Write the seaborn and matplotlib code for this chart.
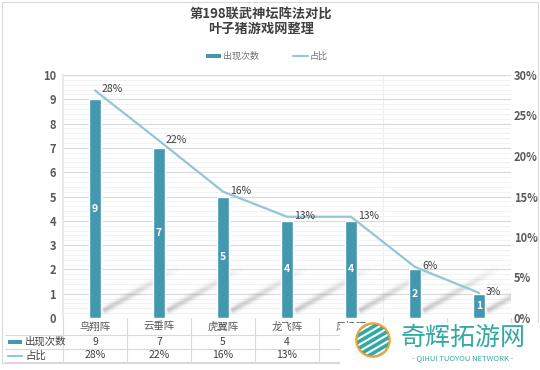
import matplotlib
matplotlib.use("Agg")
import matplotlib.pyplot as plt
import seaborn as sns
import pandas as pd
import numpy as np
from matplotlib.lines import Line2D
from matplotlib.patches import Rectangle, Circle

# ---------------- data ----------------
categories = ["鸟翔阵", "云垂阵", "虎翼阵", "龙飞阵", "风扬阵", "天覆阵", "地载阵"]
counts = [9, 7, 5, 4, 4, 2, 1]
shares = [28.1, 21.9, 15.6, 12.5, 12.5, 6.3, 3.1]
share_labels = ["28%", "22%", "16%", "13%", "13%", "6%", "3%"]
left_ticks = [0, 1, 2, 3, 4, 5, 6, 7, 8, 9, 10]
right_ticks = [0, 5, 10, 15, 20, 25, 30]
title_lines = ["第198联武神坛阵法对比", "叶子猪游戏网整理"]
series_names = ["出现次数", "占比"]

BAR = "#4398B0"
LINE = "#93C6D6"
TXT = "#595959"
DARK = "#404040"
GRID = "#D9D9D9"
TEAL = "#34A9A4"

sns.set_theme(style="white")
plt.rcParams["font.family"] = ["Noto Sans CJK SC", "DejaVu Sans"]

W, H = 540, 370
fig = plt.figure(figsize=(5.4, 3.7), dpi=100)
fig.patch.set_facecolor("white")


def fx(x):
    return x / W


def fy(y):
    return 1 - y / H


L, R, T, B = 63, 511, 75, 318
ax = fig.add_axes([fx(L), fy(B), fx(R) - fx(L), fy(T) - fy(B)])
df = pd.DataFrame({"cat": categories, "count": counts})
sns.barplot(data=df, x="cat", y="count", color=BAR, width=0.19,
            saturation=1, ax=ax, zorder=3)

# decorative soft shadows behind the bars (image in data coords)
n = len(categories)
pw, ph = R - L, B - T
ux, uy = pw / n, ph / 10.0
gx, gy = np.meshgrid(np.arange(pw) + 0.5, np.arange(ph) + 0.5)
alpha = np.zeros_like(gx)
for i in range(n):
    x0, y0 = (i + 0.1 + 0.5) * ux, 0.25 * uy
    x1, y1 = (i + 1.3 + 0.5) * ux, 2.06 * uy
    vx, vy = x1 - x0, y1 - y0
    ln2 = vx * vx + vy * vy
    t = ((gx - x0) * vx + (gy - y0) * vy) / ln2
    d = np.abs((gx - x0) * vy - (gy - y0) * vx) / np.sqrt(ln2)
    prof = np.where((t >= 0) & (t <= 1), (1 - t) ** 0.7 * np.clip(t / 0.04, 0, 1), 0)
    a = 0.36 * prof * np.exp(-(d / 3.2) ** 2)
    alpha = np.maximum(alpha, a)
img = np.zeros((ph, pw, 4))
img[..., :3] = 0.42
img[..., 3] = alpha
ax.imshow(img, extent=(-0.5, n - 0.5, 0, 10), origin="lower", aspect="auto",
          zorder=1, interpolation="bilinear")

ax.set_ylim(0, 10)
ax.set_xlim(-0.5, n - 0.5)
ax.set_yticks(left_ticks)
ax.set_yticks(np.arange(0, 10.01, 0.2), minor=True)
ax.grid(which="major", axis="y", color=GRID, lw=0.8, zorder=0)
ax.grid(which="minor", axis="y", color="#F0F0F0", lw=0.6, zorder=0)
ax.set_axisbelow(True)
ax.axvline(4.5, color="#EEEEEE", lw=0.8, zorder=0)
for s in ax.spines.values():
    s.set_visible(False)
ax.spines["left"].set_visible(True)
ax.spines["left"].set_color("#E6E6E6")
ax.set_xticks(range(n))
ax.set_xticklabels([])
ax.set_xlabel("")
ax.set_ylabel("")
ax.tick_params(axis="x", length=0)
ax.tick_params(axis="y", which="both", length=0, pad=5, labelsize=8, labelcolor=TXT)
for lab in ax.get_yticklabels():
    lab.set_fontweight("bold")

# bar value labels
for i, c in enumerate(counts):
    ax.text(i, c / 2, str(c), ha="center", va="center", color="white",
            fontsize=7.5, fontweight="bold", zorder=5)

ax2 = ax.twinx()
sns.lineplot(x=np.arange(len(shares)), y=shares, ax=ax2, color=LINE, lw=1.6, zorder=4)
ax2.set_ylim(0, 30)
ax2.set_yticks(right_ticks)
ax2.set_yticklabels([f"{t}%" for t in right_ticks])
ax2.tick_params(axis="y", length=0, pad=2, labelsize=8, labelcolor=TXT)
for lab in ax2.get_yticklabels():
    lab.set_fontweight("bold")
for s in ax2.spines.values():
    s.set_visible(False)
ax2.set_ylabel("")
ax2.grid(False)
for i, (s, lab) in enumerate(zip(shares, share_labels)):
    ax2.annotate(lab, (i, s), xytext=(7, 1), textcoords="offset pixels",
                 ha="left", va="center", fontsize=7.5, color=DARK, zorder=6)

# ---------------- title ----------------
fig.text(fx(261), fy(14), title_lines[0], ha="center", va="center",
         fontsize=9.5, fontweight="bold", color=DARK)
fig.text(fx(261), fy(29), title_lines[1], ha="center", va="center",
         fontsize=9.5, fontweight="bold", color=DARK)

# ---------------- legend ----------------
fig.patches.append(Rectangle((fx(206), fy(58)), fx(15), 3.5 / H, transform=fig.transFigure,
                             facecolor=BAR, edgecolor="none"))
fig.text(fx(223), fy(56.5), series_names[0], ha="left", va="center", fontsize=6.5, color="#707070")
fig.lines.append(Line2D([fx(293), fx(308)], [fy(56), fy(56)], transform=fig.transFigure,
                        color=LINE, lw=1.5))
fig.text(fx(310), fy(56.5), series_names[1], ha="left", va="center", fontsize=6.5, color="#707070")

# ---------------- data table ----------------
WM_LEFT = 340  # watermark overlay left edge (px)
colw = (R - L) / n
row_y = [326.5, 342, 355.5]
for yline in [335, 348.5, 362]:
    fig.lines.append(Line2D([fx(5), fx(R)], [fy(yline), fy(yline)], transform=fig.transFigure,
                            color=GRID, lw=0.8))
for k in range(n + 1):
    xk = L + k * colw
    fig.lines.append(Line2D([fx(xk), fx(xk)], [fy(B), fy(362)], transform=fig.transFigure,
                            color=GRID, lw=0.8))
for i, cat in enumerate(categories):
    cx = L + (i + 0.5) * colw
    if cx - 14 < WM_LEFT:
        fig.text(fx(cx), fy(row_y[0]), cat, ha="center", va="center", fontsize=7.5, color=TXT)
    if cx < WM_LEFT:
        fig.text(fx(cx), fy(row_y[1]), str(counts[i]), ha="center", va="center",
                 fontsize=7.5, color=DARK, fontweight="medium")
        fig.text(fx(cx), fy(row_y[2]), share_labels[i], ha="center", va="center",
                 fontsize=7.5, color=DARK, fontweight="medium")
fig.patches.append(Rectangle((fx(8), fy(344)), fx(14), 4 / H, transform=fig.transFigure,
                             facecolor=BAR, edgecolor="none"))
fig.text(fx(25), fy(row_y[1]), series_names[0], ha="left", va="center", fontsize=7.5, color=DARK)
fig.lines.append(Line2D([fx(8), fx(22)], [fy(row_y[2]), fy(row_y[2])], transform=fig.transFigure,
                        color=LINE, lw=1.5))
fig.text(fx(25), fy(row_y[2]), series_names[1], ha="left", va="center", fontsize=7.5, color=DARK)

# chart frame
fig.patches.append(Rectangle((fx(2), fy(363)), fx(536), 361 / H, transform=fig.transFigure,
                             facecolor="none", edgecolor=GRID, lw=0.8))

# ---------------- watermark overlay ----------------
fig.patches.append(Rectangle((fx(WM_LEFT), 0), fx(W - WM_LEFT), 47 / H, transform=fig.transFigure,
                             facecolor="white", edgecolor="none", zorder=10))
lax = fig.add_axes([fx(355), fy(358), fx(36), 36 / H], zorder=11)
lax.set_xlim(-1, 1)
lax.set_ylim(-1, 1)
lax.axis("off")
clip = Circle((0, 0), 0.88, transform=lax.transData)
for off in np.linspace(-1.1, 1.1, 7):
    ln, = lax.plot([-1.2, 1.2], [-0.7 + off, 0.7 + off], color=TEAL, lw=2.6,
                   solid_capstyle="butt")
    ln.set_clip_path(clip)
lax.add_patch(Circle((0, 0), 0.92, facecolor="none", edgecolor="#F3A33A", lw=1.8))
fig.text(fx(463), fy(338), "奇辉拓游网", ha="center", va="center", fontsize=18,
         color=TEAL, zorder=12)
fig.text(fx(463), fy(358), "- QIHUI TUOYOU NETWORK -", ha="center", va="center",
         fontsize=5.5, color=TEAL, zorder=12)

fig.savefig("out.png", dpi=100, facecolor="white")
